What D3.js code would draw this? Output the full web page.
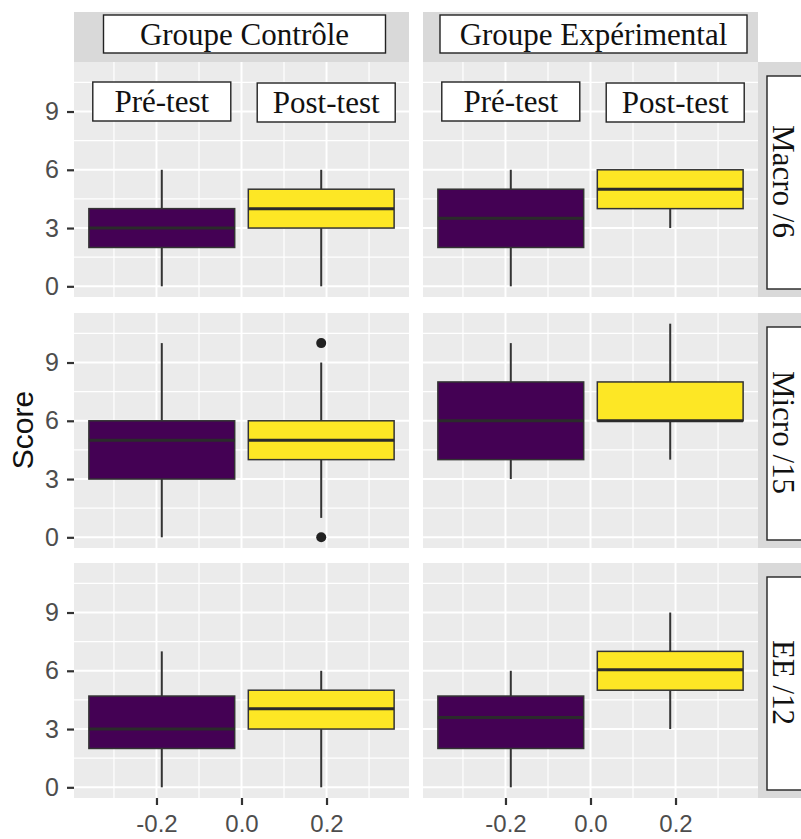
<!DOCTYPE html>
<html>
<head>
<meta charset="utf-8">
<script src="https://cdn.jsdelivr.net/npm/d3@7"></script>
<style>
  body { margin: 0; background: #fff; }
</style>
</head>
<body>
<div id="chart"></div>
<script>
/* DATA */
const groups = ["Groupe Contrôle", "Groupe Expérimental"];
const tests = ["Pré-test", "Post-test"];
const measures = ["Macro /6", "Micro /15", "EE /12"];
// [lower whisker, q1, median, q3, upper whisker]
// order: Contrôle pré, Contrôle post, Expérimental pré, Expérimental post
const macroStats = [[0, 2, 3, 4, 6], [0, 3, 4, 5, 6], [0, 2, 3.5, 5, 6], [3, 4, 5, 6, 6]];
const microStats = [[0, 3, 5, 6, 10], [1, 4, 5, 6, 9], [3, 4, 6, 8, 10], [4, 6, 6, 8, 11]];
const eeStats = [[0, 2, 3, 4.7, 7], [0, 3, 4.05, 5, 6], [0, 2, 3.6, 4.7, 6], [3, 5, 6.05, 7, 9]];
const macroOutliers = [[], [], [], []];
const microOutliers = [[], [0, 10], [], []];
const eeOutliers = [[], [], [], []];
const yTicks = [0, 3, 6, 9];
const yMinor = [1.5, 4.5, 7.5, 10.5];
const xTicks = [-0.2, 0.0, 0.2];
const xMinor = [-0.3, -0.1, 0.1, 0.3];
const testColors = ["#440154", "#FDE725"];

/* LAYOUT */
const width = 801, height = 839;
const colX = [74, 423], rowY = [62, 313, 563];
const panelW = 335, panelH = 235;
const stripTop = 12, stripH = 50, stripRightX = 758;
const stripBoxW = [282, 307];
const serif = "'Liberation Serif', 'Times New Roman', serif";
const sans = "'Liberation Sans', Arial, sans-serif";

const statsByRow = [macroStats, microStats, eeStats];
const outliersByRow = [macroOutliers, microOutliers, eeOutliers];

// build one record per box
const boxes = [];
measures.forEach((m, r) => {
  groups.forEach((g, c) => {
    tests.forEach((t, k) => {
      const s = statsByRow[r][c * 2 + k];
      boxes.push({
        measure: m, row: r, group: g, col: c, test: t,
        lo: s[0], q1: s[1], med: s[2], q3: s[3], hi: s[4],
        out: outliersByRow[r][c * 2 + k]
      });
    });
  });
});

/* SCALES */
const x = d3.scaleLinear().domain([-0.394, 0.394]).range([0, panelW]);
const y = d3.scaleLinear().domain([-0.55, 11.55]).range([panelH, 0]);
const pos = d3.scalePoint().domain(tests).range([-0.1875, 0.1875]);
const boxWidth = 0.343;
const color = d3.scaleOrdinal().domain(tests).range(testColors);

const svg = d3.select("#chart")
  .append("svg")
  .attr("width", width)
  .attr("height", height);

// panels
measures.forEach((m, r) => {
  groups.forEach((g, c) => {
    const p = svg.append("g")
      .attr("transform", `translate(${colX[c]},${rowY[r]})`);

    p.append("rect")
      .attr("width", panelW)
      .attr("height", panelH)
      .attr("fill", "#EBEBEB");

    // grid
    p.selectAll(".hminor").data(yMinor).join("line")
      .attr("x1", 0).attr("x2", panelW)
      .attr("y1", d => y(d)).attr("y2", d => y(d))
      .attr("stroke", "#fff").attr("stroke-width", 1.2);
    p.selectAll(".vminor").data(xMinor).join("line")
      .attr("y1", 0).attr("y2", panelH)
      .attr("x1", d => x(d)).attr("x2", d => x(d))
      .attr("stroke", "#fff").attr("stroke-width", 1.2);
    p.selectAll(".hmajor").data(yTicks).join("line")
      .attr("x1", 0).attr("x2", panelW)
      .attr("y1", d => y(d)).attr("y2", d => y(d))
      .attr("stroke", "#fff").attr("stroke-width", 2);
    p.selectAll(".vmajor").data(xTicks).join("line")
      .attr("y1", 0).attr("y2", panelH)
      .attr("x1", d => x(d)).attr("x2", d => x(d))
      .attr("stroke", "#fff").attr("stroke-width", 2);

    const bx = p.selectAll(".box")
      .data(boxes.filter(d => d.row === r && d.col === c))
      .join("g")
      .attr("class", "box");

    // whiskers
    bx.append("line")
      .attr("x1", d => x(pos(d.test))).attr("x2", d => x(pos(d.test)))
      .attr("y1", d => y(d.lo)).attr("y2", d => y(d.q1))
      .attr("stroke", "#333").attr("stroke-width", 2);
    bx.append("line")
      .attr("x1", d => x(pos(d.test))).attr("x2", d => x(pos(d.test)))
      .attr("y1", d => y(d.q3)).attr("y2", d => y(d.hi))
      .attr("stroke", "#333").attr("stroke-width", 2);

    bx.append("rect")
      .attr("x", d => x(pos(d.test) - boxWidth / 2))
      .attr("width", x(boxWidth) - x(0))
      .attr("y", d => y(d.q3))
      .attr("height", d => y(d.q1) - y(d.q3))
      .attr("fill", d => color(d.test))
      .attr("stroke", "#333").attr("stroke-width", 1.5);

    bx.append("line")
      .attr("x1", d => x(pos(d.test) - boxWidth / 2))
      .attr("x2", d => x(pos(d.test) + boxWidth / 2))
      .attr("y1", d => y(d.med)).attr("y2", d => y(d.med))
      .attr("stroke", "#2b2b2b").attr("stroke-width", 3);

    bx.selectAll("circle")
      .data(d => d.out.map(v => ({ v, test: d.test })))
      .join("circle")
      .attr("cx", d => x(pos(d.test)))
      .attr("cy", d => y(d.v))
      .attr("r", 5)
      .attr("fill", "#222");
  });
});

// top strips with framed labels
groups.forEach((g, c) => {
  svg.append("rect")
    .attr("x", colX[c]).attr("y", stripTop)
    .attr("width", panelW).attr("height", stripH)
    .attr("fill", "#D9D9D9");
  const cx = colX[c] + panelW / 2 + 3;
  svg.append("rect")
    .attr("x", cx - stripBoxW[c] / 2).attr("y", stripTop + 3)
    .attr("width", stripBoxW[c]).attr("height", 38)
    .attr("fill", "#fff").attr("stroke", "#222").attr("stroke-width", 1.4);
  svg.append("text")
    .attr("x", cx).attr("y", stripTop + 33)
    .attr("text-anchor", "middle")
    .style("font-family", serif).style("font-size", "31px")
    .attr("fill", "#111")
    .text(g);
});

// right strips with framed rotated labels
measures.forEach((m, r) => {
  svg.append("rect")
    .attr("x", stripRightX).attr("y", rowY[r])
    .attr("width", 50).attr("height", panelH)
    .attr("fill", "#D9D9D9");
  svg.append("rect")
    .attr("x", stripRightX + 9).attr("y", rowY[r] + 14)
    .attr("width", 50).attr("height", panelH - 22)
    .attr("fill", "#fff").attr("stroke", "#222").attr("stroke-width", 1.4);
  svg.append("text")
    .attr("transform", `translate(${stripRightX + 15},${rowY[r] + panelH / 2 + 2}) rotate(90)`)
    .attr("text-anchor", "middle")
    .style("font-family", serif).style("font-size", "31px")
    .attr("fill", "#111")
    .text(m);
});

// test labels over the boxes in the first row
groups.forEach((g, c) => {
  tests.forEach((t, k) => {
    const cx = colX[c] + x(pos(t)) + (k === 1 ? 5 : 0);
    svg.append("rect")
      .attr("x", cx - 69).attr("y", rowY[0] + 20 + k)
      .attr("width", 138).attr("height", 39)
      .attr("fill", "#fff").attr("stroke", "#222").attr("stroke-width", 1.4);
    svg.append("text")
      .attr("x", cx).attr("y", rowY[0] + 50 + k)
      .attr("text-anchor", "middle")
      .style("font-family", serif).style("font-size", "31px")
      .attr("fill", "#111")
      .text(t);
  });
});

// axes
function styleAxis(sel, size) {
  sel.select(".domain").remove();
  sel.selectAll(".tick line").attr("stroke", "#333").attr("stroke-width", 2.2);
  sel.selectAll(".tick text")
    .attr("fill", "#4D4D4D")
    .style("font-family", sans)
    .style("font-size", size);
}

rowY.forEach(ry => {
  svg.append("g")
    .attr("transform", `translate(${colX[0]},${ry})`)
    .call(d3.axisLeft(y).tickValues(yTicks).tickSize(7).tickPadding(8))
    .call(styleAxis, "25px");
});

colX.forEach(cx => {
  svg.append("g")
    .attr("transform", `translate(${cx},${rowY[2] + panelH})`)
    .call(d3.axisBottom(x).tickValues(xTicks).tickFormat(d => d.toFixed(1)).tickSize(7).tickPadding(10))
    .call(styleAxis, "24px");
});

svg.append("text")
  .attr("transform", `translate(33,${(rowY[0] + rowY[2] + panelH) / 2}) rotate(-90)`)
  .attr("text-anchor", "middle")
  .style("font-family", sans).style("font-size", "30px")
  .attr("fill", "#111")
  .text("Score");
</script>
</body>
</html>
